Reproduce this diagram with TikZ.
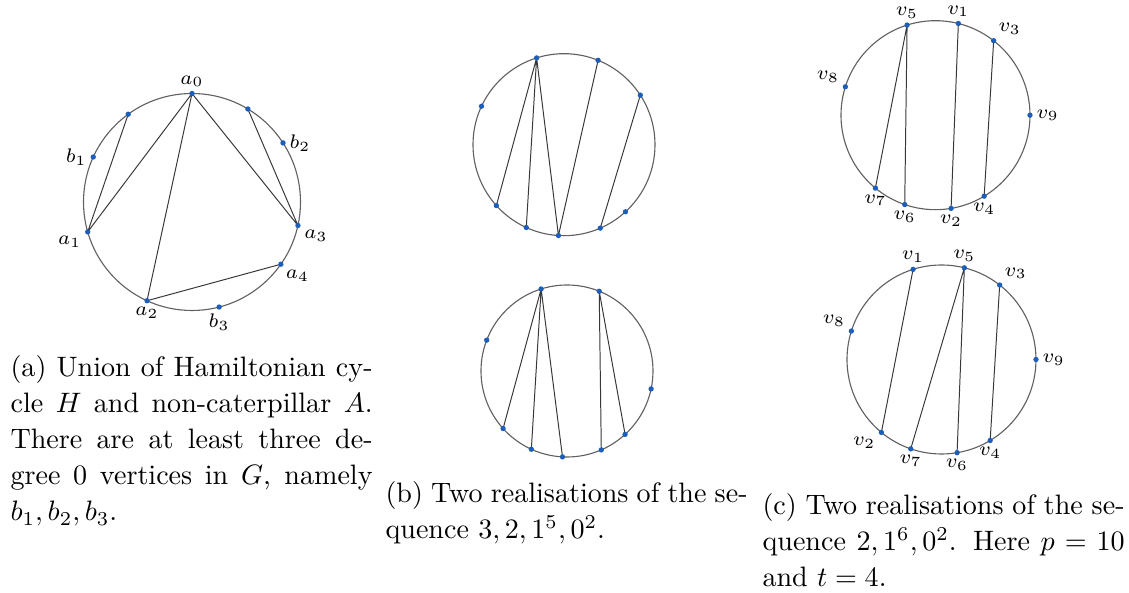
\documentclass[tikz,border=0pt]{standalone}
\usetikzlibrary{backgrounds}
\definecolor{dotblue}{RGB}{28,94,186}
\begin{document}
\begin{tikzpicture}[x=0.356pt,y=0.356pt,line join=round,line cap=round,
  dot/.style={circle,fill=dotblue,inner sep=0pt,minimum size=1.9pt},
  lab/.style={font=\scriptsize,inner sep=1pt,label distance=0pt},
  ring/.style={draw=black!62,line width=0.4pt},
  chord/.style={draw=black!78,line width=0.35pt},
  capt/.style={anchor=base west,inner sep=0pt,text width=128.9pt,align=justify,
    font=\fontsize{10}{12.8}\selectfont,
    execute at begin node={\hyphenpenalty=10000\tolerance=9999}}]
\useasboundingbox (0,0) rectangle (1129,593);
% (a) Hamiltonian cycle and tree
\begin{scope}[shift={(192,391)}]
  \node[dot,label={[lab]90:$a_0$}] (a0) at (90:108.5) {};
  \node[dot] (c1) at (126:108.5) {};
  \node[dot,label={[lab]180:$b_1$}] (b1) at (155.5:108.5) {};
  \node[dot,label={[lab]200:$a_1$}] (a1) at (196:108.5) {};
  \node[dot,label={[lab]270:$a_2$}] (a2) at (245.5:108.5) {};
  \node[dot,label={[lab]270:$b_3$}] (b3) at (284.5:108.5) {};
  \node[dot,label={[lab]300:$a_4$}] (a4) at (325:108.5) {};
  \node[dot,label={[lab]-20:$a_3$}] (a3) at (347.5:108.5) {};
  \node[dot,label={[lab]0:$b_2$}] (b2) at (33:108.5) {};
  \node[dot] (c2) at (59:108.5) {};
  \begin{scope}[on background layer]
    \draw[ring] (0,0) circle (108.5);
    \draw[chord] (a0.center) -- (a1.center) (a0.center) -- (a2.center)
      (a0.center) -- (a3.center) (c1.center) -- (a1.center)
      (c2.center) -- (a3.center) (a2.center) -- (a4.center);
  \end{scope}
\end{scope}
% (b) first realisation
\begin{scope}[shift={(564,448.3)}]
  \foreach \n/\a in {1/107.5,2/68,3/33,4/312.5,5/293.5,6/266.5,7/245.5,8/222,9/155}
    \node[dot] (p\n) at (\a:91) {};
  \begin{scope}[on background layer]
    \draw[ring] (0,0) circle (91);
    \draw[chord] (p1.center) -- (p8.center) (p1.center) -- (p7.center)
      (p1.center) -- (p6.center) -- (p2.center) (p3.center) -- (p5.center);
  \end{scope}
\end{scope}
% (b) second realisation
\begin{scope}[shift={(567,222)}]
  \foreach \n/\a in {1/107.5,2/68,3/348,4/312.5,5/293.5,6/267,7/245.5,8/222,9/159}
    \node[dot] (q\n) at (\a:86) {};
  \begin{scope}[on background layer]
    \draw[ring] (0,0) circle (86);
    \draw[chord] (q1.center) -- (q8.center) (q1.center) -- (q7.center)
      (q1.center) -- (q6.center) (q2.center) -- (q5.center) (q2.center) -- (q4.center);
  \end{scope}
\end{scope}
% (c) first realisation
\begin{scope}[shift={(935.5,477.8)}]
  \foreach \n/\a/\p in {5/107.5/90,1/76/90,3/52/60,9/0/0,4/301/270,2/279.5/270,6/251/270,7/230.5/270,8/162.5/155}
    \node[dot,label={[lab]\p:$v_\n$}] (tv\n) at (\a:94.5) {};
  \begin{scope}[on background layer]
    \draw[ring] (0,0) circle (94.5);
    \draw[chord] (tv5.center) -- (tv7.center) (tv5.center) -- (tv6.center)
      (tv1.center) -- (tv2.center) (tv3.center) -- (tv4.center);
  \end{scope}
\end{scope}
% (c) second realisation
\begin{scope}[shift={(941.5,233.5)}]
  \foreach \n/\a/\p in {1/107.5/90,5/76/90,3/52/60,9/0/0,4/301/270,6/279.5/270,7/251/270,2/230.5/210,8/162.5/155}
    \node[dot,label={[lab]\p:$v_\n$}] (bv\n) at (\a:94.5) {};
  \begin{scope}[on background layer]
    \draw[ring] (0,0) circle (94.5);
    \draw[chord] (bv1.center) -- (bv2.center) (bv5.center) -- (bv7.center)
      (bv5.center) -- (bv6.center) (bv3.center) -- (bv4.center);
  \end{scope}
\end{scope}
% captions
\node[capt] (capa) at (10,216) {(a) Union of Hamiltonian cy-\linebreak cle $H$ and non-caterpillar $A$.\linebreak There are at least three de-\linebreak gree 0 vertices in $G$, namely\linebreak $b_1,b_2,b_3$.};
\node[capt] (capb) at (385,90) {(b) Two realisations of the se-\linebreak quence $3,2,1^5,0^2$.};
\node[capt] (capc) at (762,78) {(c) Two realisations of the se-\linebreak quence $2,1^6,0^2$. Here $p=10$\linebreak and $t=4$.};
\end{tikzpicture}
\end{document}
